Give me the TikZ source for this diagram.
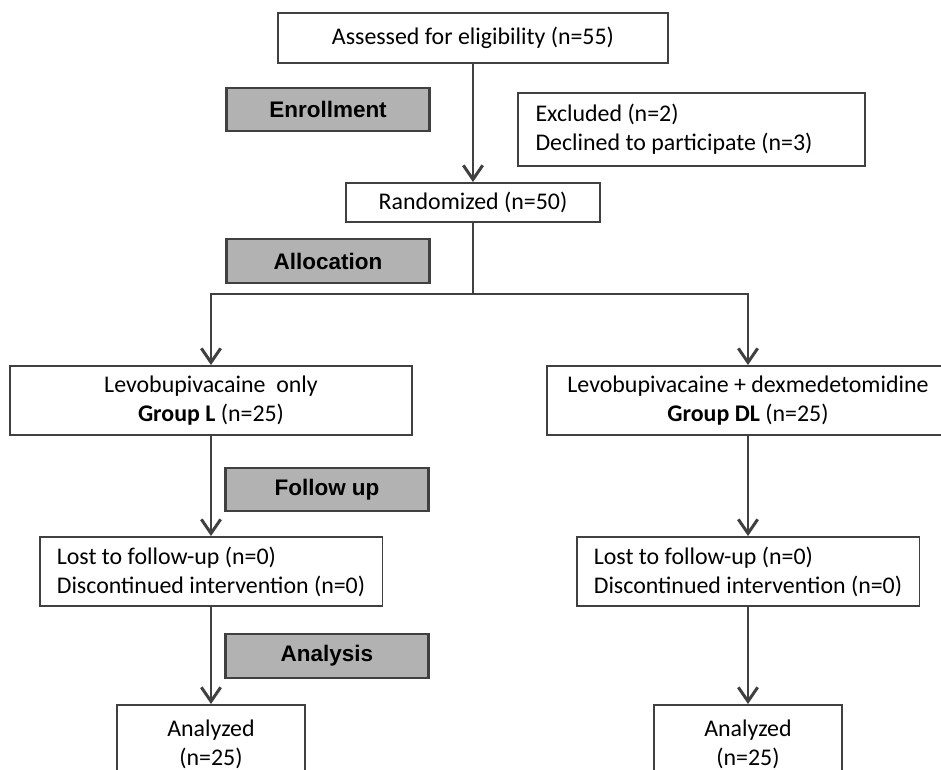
\documentclass[tikz,border=0pt]{standalone}
\usepackage{fontspec}
\setmainfont{Carlito}
\newfontfamily\headfont{Liberation Sans}
\usepackage{xcolor}
\usepackage{tikz}
\usetikzlibrary{arrows.meta}
\definecolor{linegray}{RGB}{64,64,64}
\definecolor{stagegray}{RGB}{178,178,178}

\begin{document}
\begin{tikzpicture}[x=0.02cm,y=-0.02cm,
	box/.style={draw=linegray, line width=1.1pt, fill=white, inner sep=0pt, font=\fontsize{13.6}{16.5}\selectfont},
	stage/.style={draw=linegray, line width=1.3pt, fill=stagegray, inner sep=0pt, minimum width=4.06cm, minimum height=0.87cm, font=\headfont\bfseries\fontsize{12.8}{15}\selectfont},
	flow/.style={-{Straight Barb[length=8pt,width=11pt]}, line width=1.7pt, linegray},
	link/.style={line width=1.7pt, linegray}]
			\useasboundingbox (0,0) rectangle (941,770);
			\clip (0,0) rectangle (941,770);
			%% top
			\node[box, minimum width=7.82cm, minimum height=1.0cm] (assess) at (473,38) {Assessed for eligibility (n=55)};
			\node[stage] (enroll) at (328,109.5) {Enrollment};
			\node[box, text width=6.24cm, inner xsep=0.35cm, minimum height=1.46cm, align=flush left] (excl) at (691.5,129.5) {Excluded (n=2)\\Declined to participate (n=3)};
			\node[box, minimum width=5.08cm, minimum height=0.78cm] (rand) at (473,202.5) {Randomized (n=50)};
			\node[stage] (alloc) at (328,261) {Allocation};
			\coordinate (split) at (473,294);
			%% groups
			\node[box, minimum width=8.06cm, minimum height=1.38cm, align=center] (grpL) at (211,400.5) {Levobupivacaine~ only\\\textbf{Group L} (n=25)};
			\node[box, minimum width=8.06cm, minimum height=1.38cm, align=center] (grpDL) at (748,400.5) {Levobupivacaine + dexmedetomidine\\\textbf{Group DL} (n=25)};
			\node[stage] (follow) at (327,489.5) {Follow up};
			\node[box, minimum width=6.86cm, minimum height=1.38cm, align=left] (lostL) at (211,571.5) {Lost to follow-up (n=0)\\Discontinued intervention (n=0)};
			\node[box, minimum width=6.86cm, minimum height=1.38cm, align=left] (lostR) at (748,571.5) {Lost to follow-up (n=0)\\Discontinued intervention (n=0)};
			\node[stage] (analysis) at (327,656) {Analysis};
			\node[box, anchor=north, minimum width=3.76cm, inner ysep=0.29cm, align=center] (anaL) at (211,704) {Analyzed\\(n=25)};
			\node[box, anchor=north, minimum width=3.76cm, inner ysep=0.29cm, align=center] (anaR) at (748,704) {Analyzed\\(n=25)};
			%% lines
			\draw[flow] (assess) -- (rand);
			\draw[link] (rand) -- (split);
			\draw[flow] (split) -| (grpL);
			\draw[flow] (split) -| (grpDL);
			\draw[flow] (grpL) -- (lostL);
			\draw[flow] (grpDL) -- (lostR);
			\draw[flow] (lostL) -- (anaL);
			\draw[flow] (lostR) -- (anaR);
		\end{tikzpicture}
\end{document}
